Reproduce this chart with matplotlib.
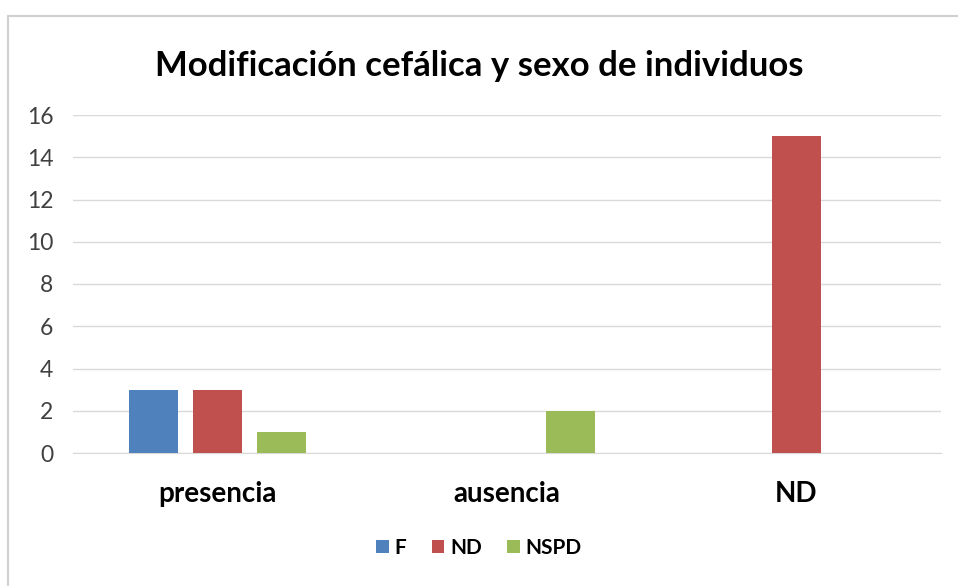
import numpy as np
import matplotlib.pyplot as plt
from matplotlib.patches import Rectangle

plt.rcParams['font.family'] = ['Lato', 'DejaVu Sans']

categories = ['presencia', 'ausencia', 'ND']
series_names = ['F', 'ND', 'NSPD']
f_vals = [3, 0, 0]
nd_vals = [3, 0, 15]
nspd_vals = [1, 2, 0]
yticks = [0, 2, 4, 6, 8, 10, 12, 14, 16]
colors = ['#4F81BD', '#C0504D', '#9BBB59']

W, H = 958, 586
fig = plt.figure(figsize=(W / 100, H / 100), dpi=100)

# chart border (only top and left visible in the reference)
fig.patches.append(Rectangle((8 / W, -0.05), 1.1, 1 - 16 / H + 0.05,
                             transform=fig.transFigure, fill=False,
                             edgecolor='#D0D0D0', lw=1.5))

ax = fig.add_axes([72.75 / W, 1 - 453 / H, (941 - 72.75) / W, (453 - 115) / H])

x = np.arange(len(categories))
bw = 0.169
off = 0.221
for i, (vals, c, name) in enumerate(zip([f_vals, nd_vals, nspd_vals], colors, series_names)):
    ax.bar(x + (i - 1) * off, vals, width=bw, color=c, label=name, zorder=3)

ax.set_xlim(-0.5, 2.5)
ax.set_ylim(0, 16)
ax.set_yticks(yticks)
ax.set_xticks(x)
ax.set_xticklabels(categories, fontsize=20, fontweight='bold', color='#000000')
ax.tick_params(axis='y', labelsize=16.5, labelcolor='#404040', length=0, pad=14)
ax.tick_params(axis='x', length=0, pad=20)
ax.grid(axis='y', color='#D9D9D9', lw=1, zorder=0)
for s in ['top', 'right', 'left']:
    ax.spines[s].set_visible(False)
ax.spines['bottom'].set_color('#D9D9D9')

fig.text(0.5, 1 - 66 / H, 'Modificación cefálica y sexo de individuos',
         ha='center', va='center', fontsize=25, fontweight='bold', color='#000000')

fig.legend(loc='center', bbox_to_anchor=(0.5, 1 - 548 / H), ncol=3, frameon=False,
           prop={'size': 15, 'weight': 'bold'}, handlelength=0.6, handleheight=0.6,
           handletextpad=0.3, columnspacing=1.2)

fig.savefig('out.png', dpi=100)
